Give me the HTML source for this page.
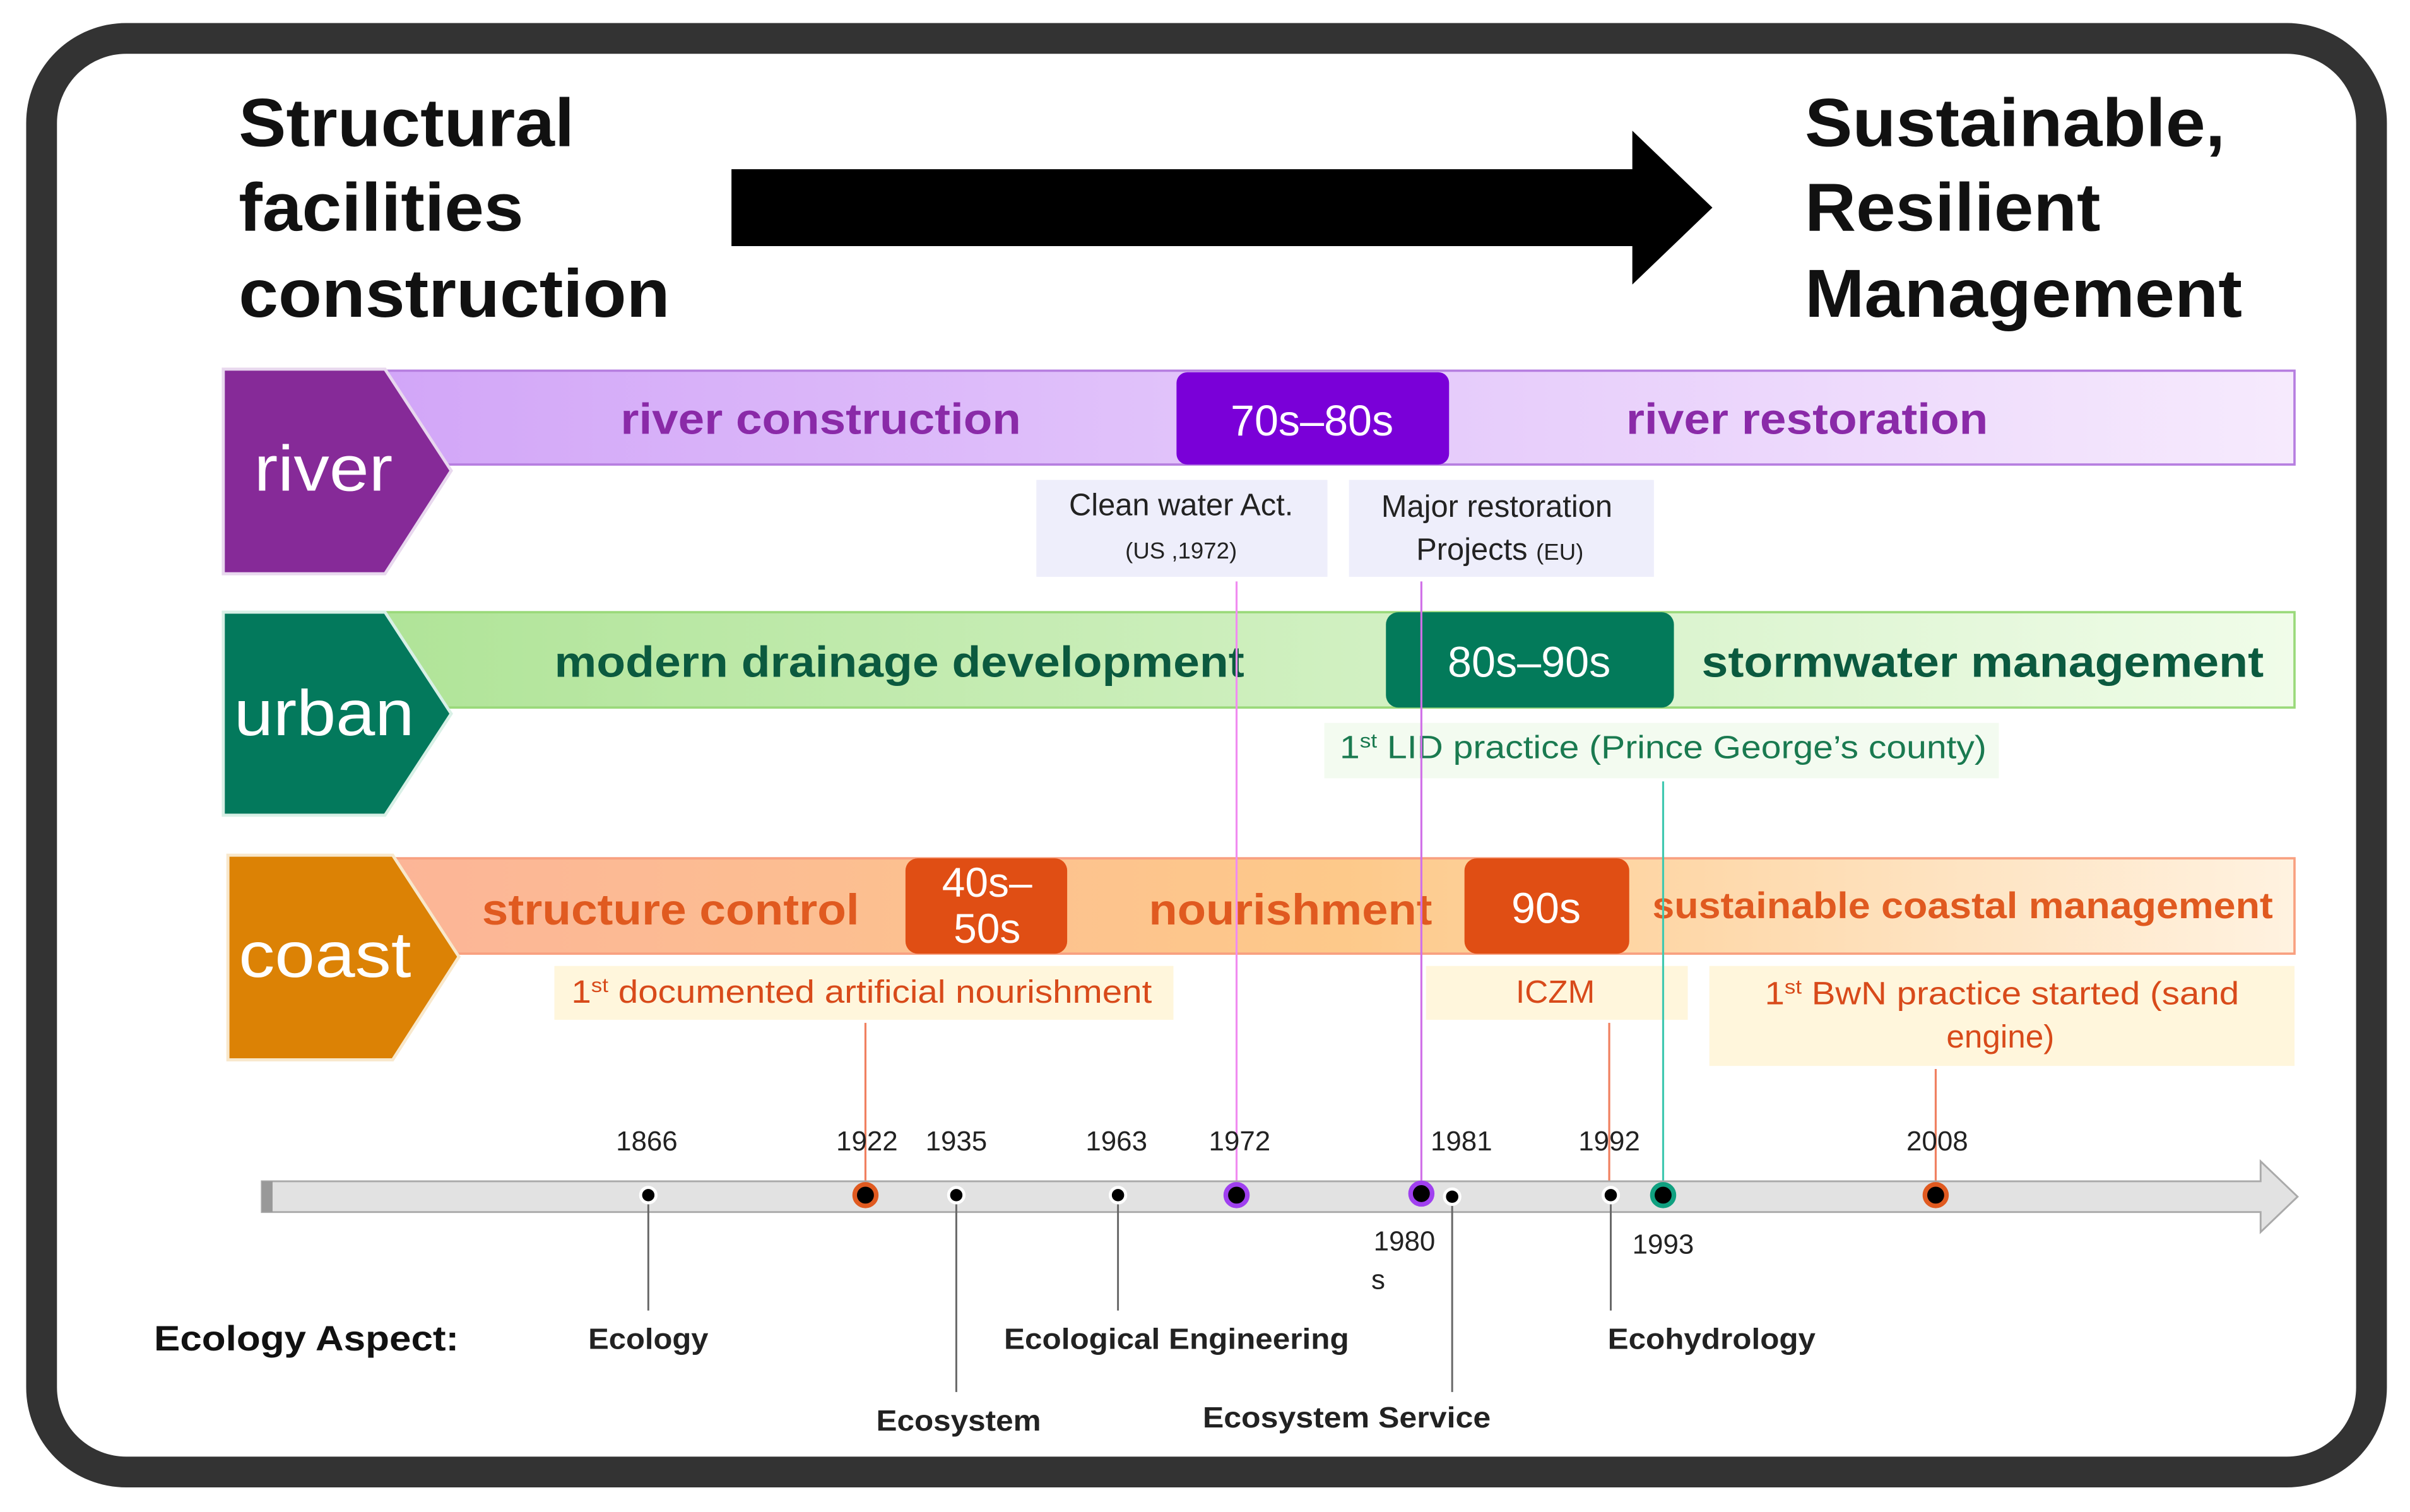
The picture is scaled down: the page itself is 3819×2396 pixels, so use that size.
<!DOCTYPE html>
<html><head><meta charset="utf-8"><style>
html,body{margin:0;padding:0;background:#fff}
svg{display:block}
text{font-family:"Liberation Sans",Arial,sans-serif}
</style></head><body>
<svg width="3819" height="2396" viewBox="0 0 1565 983" preserveAspectRatio="none" xmlns="http://www.w3.org/2000/svg">
<defs>
<linearGradient id="gr" x1="0" x2="1"><stop offset="0" stop-color="#d2a6f8"/><stop offset="1" stop-color="#f6eafd"/></linearGradient>
<linearGradient id="gu" x1="0" x2="1"><stop offset="0" stop-color="#b0e498"/><stop offset="1" stop-color="#f0fce9"/></linearGradient>
<linearGradient id="gc" x1="0" x2="1"><stop offset="0" stop-color="#fcb597"/><stop offset="0.5" stop-color="#fdc98a"/><stop offset="1" stop-color="#fff2e0"/></linearGradient>
</defs>
<rect x="0" y="0" width="1565" height="983" fill="#fff"/>
<rect x="27" y="25" width="1513" height="932" rx="55" fill="#fff" stroke="#333" stroke-width="20"/>
<g font-weight="bold" font-size="44" fill="#111" lengthAdjust="spacingAndGlyphs">
<text x="155" y="95" textLength="218" lengthAdjust="spacingAndGlyphs">Structural</text><text x="155" y="150" textLength="185" lengthAdjust="spacingAndGlyphs">facilities</text><text x="155" y="206" textLength="280" lengthAdjust="spacingAndGlyphs">construction</text>
<text x="1172" y="95" textLength="273" lengthAdjust="spacingAndGlyphs">Sustainable,</text><text x="1172" y="150" textLength="192" lengthAdjust="spacingAndGlyphs">Resilient</text><text x="1172" y="206" textLength="284" lengthAdjust="spacingAndGlyphs">Management</text>
</g>
<polygon points="475,110 1060,110 1060,85 1112,135 1060,185 1060,160 475,160" fill="#000"/>

<!-- river -->
<rect x="250" y="241" width="1240" height="61" fill="url(#gr)" stroke="#b67ee0" stroke-width="1.5"/>
<polygon points="145,240 250,240 293,306 250,373 145,373" fill="#862a98" stroke="#e8d8ee" stroke-width="2"/>
<text x="165" y="319" font-size="42" fill="#fff" textLength="90" lengthAdjust="spacingAndGlyphs">river</text>
<rect x="764" y="242" width="177" height="60" rx="7" fill="#7a00d8"/>
<text x="852" y="283" font-size="28" fill="#fff" text-anchor="middle">70s–80s</text>
<text x="403" y="282" font-size="28" font-weight="bold" fill="#8a2aa8" textLength="260" lengthAdjust="spacingAndGlyphs">river construction</text>
<text x="1056" y="282" font-size="28" font-weight="bold" fill="#8a2aa8" textLength="235" lengthAdjust="spacingAndGlyphs">river restoration</text>
<rect x="673" y="312" width="189" height="63" fill="#eeeefb"/>
<text x="767" y="335" font-size="20" fill="#222" text-anchor="middle">Clean water Act.</text>
<text x="767" y="363" font-size="15" fill="#222" text-anchor="middle">(US ,1972)</text>
<rect x="876" y="312" width="198" height="63" fill="#eeeefb"/>
<text x="972" y="336" font-size="20" fill="#222" text-anchor="middle">Major restoration</text>
<text x="974" y="364" font-size="20" fill="#222" text-anchor="middle">Projects <tspan font-size="15">(EU)</tspan></text>

<!-- urban -->
<rect x="250" y="398" width="1240" height="62" fill="url(#gu)" stroke="#9ad97a" stroke-width="1.5"/>
<polygon points="145,398 250,398 293,464 250,530 145,530" fill="#03795c" stroke="#d8f0e6" stroke-width="2"/>
<text x="152" y="478" font-size="42" fill="#fff" textLength="117" lengthAdjust="spacingAndGlyphs">urban</text>
<rect x="900" y="398" width="187" height="62" rx="8" fill="#037a5a"/>
<text x="993" y="440" font-size="28" fill="#fff" text-anchor="middle">80s–90s</text>
<text x="360" y="440" font-size="28" font-weight="bold" fill="#0b5a3f" textLength="448" lengthAdjust="spacingAndGlyphs">modern drainage development</text>
<text x="1105" y="440" font-size="28" font-weight="bold" fill="#0b5a3f" textLength="365" lengthAdjust="spacingAndGlyphs">stormwater management</text>
<rect x="860" y="470" width="438" height="36" fill="#f3fbf0"/>
<text x="870" y="493" font-size="21" fill="#1a7a50" textLength="420" lengthAdjust="spacingAndGlyphs">1<tspan font-size="13" dy="-7">st</tspan><tspan dy="7">  LID practice (Prince George’s county)</tspan></text>

<!-- coast -->
<rect x="255" y="558" width="1235" height="62" fill="url(#gc)" stroke="#f8a080" stroke-width="1.5"/>
<polygon points="148,556 255,556 298,622 255,689 148,689" fill="#dc8205" stroke="#f8e8cc" stroke-width="2"/>
<text x="155" y="635" font-size="42" fill="#fff" textLength="112" lengthAdjust="spacingAndGlyphs">coast</text>
<rect x="588" y="558" width="105" height="62" rx="8" fill="#e04e14"/>
<text x="641" y="583" font-size="27" fill="#fff" text-anchor="middle">40s–</text>
<text x="641" y="613" font-size="27" fill="#fff" text-anchor="middle">50s</text>
<rect x="951" y="558" width="107" height="62" rx="8" fill="#e04e14"/>
<text x="1004" y="600" font-size="28" fill="#fff" text-anchor="middle">90s</text>
<text x="313" y="601" font-size="28" font-weight="bold" fill="#e05a20" textLength="245" lengthAdjust="spacingAndGlyphs">structure control</text>
<text x="746" y="601" font-size="28" font-weight="bold" fill="#e05a20" textLength="184" lengthAdjust="spacingAndGlyphs">nourishment</text>
<text x="1073" y="597" font-size="24" font-weight="bold" fill="#e05a20" textLength="403" lengthAdjust="spacingAndGlyphs">sustainable coastal management</text>
<rect x="360" y="628" width="402" height="35" fill="#fff6dc"/>
<text x="371" y="652" font-size="21" fill="#d84a1a" textLength="377" lengthAdjust="spacingAndGlyphs">1<tspan font-size="13" dy="-7">st</tspan><tspan dy="7"> documented artificial nourishment</tspan></text>
<rect x="926" y="628" width="170" height="35" fill="#fff6dc"/>
<text x="1010" y="652" font-size="21" fill="#d84a1a" text-anchor="middle">ICZM</text>
<rect x="1110" y="628" width="380" height="65" fill="#fff6dc"/>
<text x="1146" y="653" font-size="21" fill="#d84a1a" textLength="308" lengthAdjust="spacingAndGlyphs">1<tspan font-size="13" dy="-7">st</tspan><tspan dy="7"> BwN practice started (sand</tspan></text>
<text x="1299" y="681" font-size="21" fill="#d84a1a" text-anchor="middle">engine)</text>

<!-- vertical connectors -->
<g stroke-width="1.3">
<line x1="803" y1="378" x2="803" y2="777" stroke="#f08cf0"/>
<line x1="923" y1="378" x2="923" y2="777" stroke="#d070e8"/>
<line x1="1080" y1="508" x2="1080" y2="777" stroke="#40c8b0"/>
<line x1="562" y1="665" x2="562" y2="777" stroke="#f08060"/>
<line x1="1045" y1="665" x2="1045" y2="777" stroke="#f08060"/>
<line x1="1257" y1="695" x2="1257" y2="777" stroke="#f08060"/>
</g>

<!-- timeline -->
<polygon points="170,768 1468,768 1468,755 1492,778 1468,801 1468,788 170,788" fill="#e2e2e2" stroke="#aaa" stroke-width="1.2"/>
<rect x="170" y="768" width="7" height="20" fill="#999"/>
<g stroke="#666" stroke-width="1.2">
<line x1="421" y1="777" x2="421" y2="852"/><line x1="621" y1="777" x2="621" y2="905"/>
<line x1="726" y1="777" x2="726" y2="852"/><line x1="943" y1="777" x2="943" y2="905"/>
<line x1="1046" y1="777" x2="1046" y2="852"/>
</g>
<g>
<circle cx="421" cy="777" r="5" fill="#000" stroke="#fff" stroke-width="2"/>
<circle cx="562" cy="777" r="7" fill="#000" stroke="#e05a20" stroke-width="3"/>
<circle cx="621" cy="777" r="5" fill="#000" stroke="#fff" stroke-width="2"/>
<circle cx="726" cy="777" r="5" fill="#000" stroke="#fff" stroke-width="2"/>
<circle cx="803" cy="777" r="7" fill="#000" stroke="#a040f0" stroke-width="3"/>
<circle cx="923" cy="776" r="7" fill="#000" stroke="#a040f0" stroke-width="3"/>
<circle cx="943" cy="778" r="5" fill="#000" stroke="#fff" stroke-width="2"/>
<circle cx="1046" cy="777" r="5" fill="#000" stroke="#fff" stroke-width="2"/>
<circle cx="1080" cy="777" r="7" fill="#000" stroke="#10a080" stroke-width="3"/>
<circle cx="1257" cy="777" r="7" fill="#000" stroke="#e05a20" stroke-width="3"/>
</g>
<g font-size="18" fill="#222" text-anchor="middle">
<text x="420" y="748">1866</text><text x="563" y="748">1922</text><text x="621" y="748">1935</text>
<text x="725" y="748">1963</text><text x="805" y="748">1972</text><text x="949" y="748">1981</text>
<text x="1045" y="748">1992</text><text x="1258" y="748">2008</text>
<text x="912" y="813">1980</text><text x="895" y="838">s</text><text x="1080" y="815">1993</text>
</g>
<text x="100" y="878" font-size="23" font-weight="bold" fill="#111" textLength="198" lengthAdjust="spacingAndGlyphs">Ecology Aspect:</text>
<g font-size="19" font-weight="bold" fill="#222">
<text x="382" y="877" textLength="78" lengthAdjust="spacingAndGlyphs">Ecology</text>
<text x="569" y="930" textLength="107" lengthAdjust="spacingAndGlyphs">Ecosystem</text>
<text x="652" y="877" textLength="224" lengthAdjust="spacingAndGlyphs">Ecological  Engineering</text>
<text x="781" y="928" textLength="187" lengthAdjust="spacingAndGlyphs">Ecosystem  Service</text>
<text x="1044" y="877" textLength="135" lengthAdjust="spacingAndGlyphs">Ecohydrology</text>
</g>
</svg>
</body></html>
